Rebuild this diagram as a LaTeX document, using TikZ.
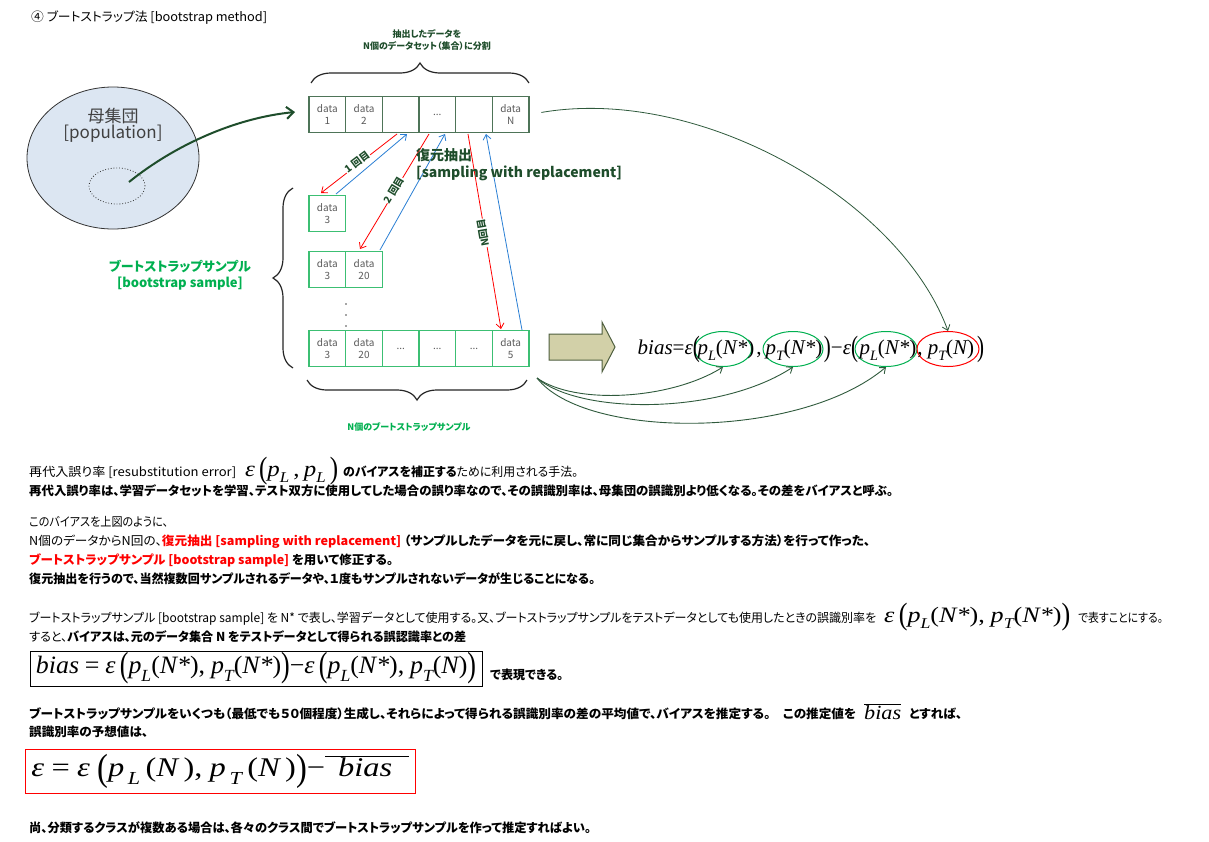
\documentclass[tikz,border=0pt]{standalone}
\usepackage{fontspec}
\setmainfont{Noto Sans CJK JP}[RawFeature=+palt]
\newfontfamily\tms{Liberation Serif}
\usepackage{graphicx}
\usetikzlibrary{shapes.geometric,decorations.pathreplacing,arrows.meta}
\definecolor{dg}{HTML}{1E4D2B}
\definecolor{topb}{HTML}{4E7458}
\definecolor{smpb}{HTML}{3CBF73}
\definecolor{celltext}{HTML}{5A5A5A}
\definecolor{lg}{HTML}{00B050}
\definecolor{blu}{HTML}{2A7FD4}
\definecolor{popfill}{HTML}{DCE6F2}
\definecolor{khaki}{HTML}{D2D0A8}
\definecolor{khakib}{HTML}{4F5F3F}
\definecolor{cg}{HTML}{2F5A3C}
\newcommand\fsz[1]{\fontsize{#1}{#1}\selectfont}
\newcommand\fitw[2]{\resizebox{#1pt}{\height}{#2}}
\newcommand\FmV[1]{{\tms\itshape #1}}
\newcommand\FmR[1]{{\tms #1}}
\newcommand\FmS[1]{\raisebox{-0.3em}{\scalebox{0.68}{\tms\itshape #1}}}
\newcommand\FmL{\raisebox{-0.13em}{\scalebox{1}[1.4]{\tms (}}}
\newcommand\FmRp{\raisebox{-0.13em}{\scalebox{1}[1.4]{\tms )}}}
\newcommand\FmE{\FmV{ε}}
\newcommand\FmMinus{\FmR{−}}
\newcommand\FmPL[1]{\FmV{p}\FmS{L}\FmR{(}\FmV{#1}\FmR{)}}
\newcommand\FmPT[1]{\FmV{p}\FmS{T}\FmR{(}\FmV{#1}\FmR{)}}
\tikzset{
  cell/.style={draw, minimum width=36.67pt, minimum height=36.5pt, inner sep=0pt, align=center,
    font=\fsz{10}\linespread{1.15}\selectfont, text=celltext, line width=1.1pt},
  topcell/.style={cell, draw=topb},
  smpcell/.style={cell, draw=smpb},
  tip/.style={-{Straight Barb[length=5pt,width=8pt]}},
  redarr/.style={draw=red, line width=0.8pt, tip},
  bluearr/.style={draw=blu, line width=0.8pt, tip},
  cnt/.style={font=\bfseries\fsz{10}, text=dg, fill=white, inner sep=0.5pt},
  fm/.style={font=\fsz{21}\tms, inner sep=0pt},
  ell/.style={ellipse, draw=lg, line width=1pt, minimum height=35pt, inner sep=0pt},
  brc/.style={decorate, decoration={brace, amplitude=20pt}, line width=1.2pt, draw=black!85},
  body/.style={anchor=base west, inner sep=0pt, font=\fsz{12.3}},
  curv/.style={draw=cg, line width=0.9pt, tip},
}
\begin{document}
\begin{tikzpicture}[x=1pt,y=-1pt]
\useasboundingbox (0,0) rectangle (1209,841);
\fill[white] (0,0) rectangle (1209,841);

% title
\node[anchor=base west, inner sep=0pt, font=\fsz{12.5}] (title) at (31,21) {\fitw{236}{④ ブートストラップ法 [bootstrap method]}};

% population
\node[ellipse, draw=black!80, fill=popfill, line width=0.8pt, minimum width=172pt, minimum height=142pt] (pop) at (113,158) {};
\node[align=center, font=\fsz{17}\linespread{0.95}\selectfont, text=black!75, inner sep=0pt] (poptxt) at (113,125) {母集団\\{[population]}};
\node[ellipse, draw=black!80, dotted, line width=0.8pt, minimum width=56pt, minimum height=36pt] (sub) at (117,186) {};

% top data row
\node[topcell] (t1) at (327.33,114.5) {data\\1};
\node[topcell] (t2) at (364.00,114.5) {data\\2};
\node[topcell] (t3) at (400.67,114.5) {};
\node[topcell] (t4) at (437.33,114.5) {...};
\node[topcell] (t5) at (474.00,114.5) {};
\node[topcell] (t6) at (510.67,114.5) {data\\N};

\node[align=center, font=\bfseries\fsz{9}\linespread{1.4}\selectfont, text=dg, inner sep=0pt] (toplbl) at (427,40) {抽出したデータを\\N個のデータセット（集合）に分割};
\draw[brc] (311,83) -- (529,83);

% samples
\node[smpcell] (r1c1) at (327.33,213.5) {data\\3};
\node[smpcell] (r2c1) at (327.33,269.5) {data\\3};
\node[smpcell] (r2c2) at (364.00,269.5) {data\\20};
\node[smpcell] (r3c1) at (327.33,348.5) {data\\3};
\node[smpcell] (r3c2) at (364.00,348.5) {data\\20};
\node[smpcell] (r3c3) at (400.67,348.5) {...};
\node[smpcell] (r3c4) at (437.33,348.5) {...};
\node[smpcell] (r3c5) at (474.00,348.5) {...};
\node[smpcell] (r3c6) at (510.67,348.5) {data\\5};
\fill[black!70] (346,304) circle (0.8) (346,315) circle (0.8) (346,326) circle (0.8);

\draw[brc] (293,368) -- (293,188);
\draw[brc] (527,380) -- (307,380);
\node[align=center, font=\bfseries\fsz{13}\linespread{1.25}\selectfont, text=lg, inner sep=0pt] (bslbl) at (180,275) {ブートストラップサンプル\\{[bootstrap sample]}};
\node[font=\bfseries\fsz{9}, text=lg, inner sep=0pt] (nlbl) at (409,427) {N個のブートストラップサンプル};

% population arrow
\coordinate (ps) at (129,182);
\coordinate (pe) at (295,112);
\draw[draw=dg, line width=2pt, -{Straight Barb[length=7pt,width=12pt]}] (ps) .. controls (175,145) and (235,118) .. (pe);

% sampling arrows
\coordinate (a1s) at (397,134); \coordinate (a1e) at (321,193);
\coordinate (b1s) at (336,194); \coordinate (b1e) at (407,134);
\coordinate (a2s) at (429,134); \coordinate (a2e) at (360,249);
\coordinate (b2s) at (380,250); \coordinate (b2e) at (445,134);
\coordinate (a3s) at (468,134); \coordinate (a3e) at (501,329);
\coordinate (b3s) at (522,330); \coordinate (b3e) at (486,134);
\draw[redarr] (a1s) -- (a1e);
\draw[bluearr] (b1s) -- (b1e);
\draw[redarr] (a2s) -- (a2e);
\draw[bluearr] (b2s) -- (b2e);
\draw[redarr] (a3s) -- (a3e);
\draw[bluearr] (b3s) -- (b3e);
\node[cnt, rotate=37] (k1) at (357,162) {1 回目};
\node[cnt, rotate=59] (k2) at (394,190) {2 回目};
\node[cnt, rotate=100] (k3) at (483,233) {N回目};

\node[anchor=north west, align=left, font=\bfseries\fsz{14}\linespread{1.25}\selectfont, text=dg, inner sep=0pt] (fk) at (416,148) {復元抽出\\{[sampling with replacement]}};

% block arrow
\draw[fill=khaki, draw=khakib, line width=1pt] (549,334) -- (602,334) -- (602,322) -- (615,347) -- (602,372) -- (602,360) -- (549,360) -- cycle;

% formula in diagram
\node[ell] (e1) at (723,349) [minimum width=57pt] {};
\node[ell] (e2) at (793,349) [minimum width=60pt] {};
\node[ell] (e3) at (886,349) [minimum width=62pt] {};
\node[ell, draw=red] (e4) at (948,349) [minimum width=62pt] {};
\node[fm, anchor=base east] (fa) at (700,354) {\FmV{bias}\FmR{=}\FmE\FmL};
\node[fm, anchor=base] (fb) at (726,354) {\FmPL{N*}};
\node[fm, anchor=base] (fc) at (759,354) {\FmR{,}};
\node[fm, anchor=base] (fd) at (794,354) {\FmPT{N*}};
\node[fm, anchor=base] (fe) at (841,354) {\FmRp\FmMinus\FmE\FmL};
\node[fm, anchor=base] (ff) at (888,354) {\FmPL{N*}};
\node[fm, anchor=base] (fg) at (920,354) {\FmR{,}};
\node[fm, anchor=base] (fh) at (951,354) {\FmPT{N}};
\node[fm, anchor=base west] (fi) at (977,354) {\FmRp};

% connectors to formula
\draw[draw=cg, line width=0.8pt, tip, shorten <=12pt] (t6.east) .. controls (700,85) and (900,200) .. (e4.north);
\coordinate (cs) at (537,378);
\draw[curv] (cs) .. controls (575,405) and (670,400) .. (e1.south);
\draw[curv] (cs) .. controls (580,415) and (720,415) .. (e2.south);
\draw[curv] (cs) .. controls (585,440) and (800,440) .. (e3.south);

% text
\node[body] (l1a) at (29,476) {\fitw{207}{再代入誤り率 [resubstitution error]}};
\node[anchor=base west, inner sep=0pt, font=\fsz{22}] (l1f) at (245,476) {\fitw{93}{\FmE\,\FmL\FmV{p}\FmS{L}\,\FmR{,}\,\FmV{p}\FmS{L}\,\FmRp}};
\node[body] (l1b) at (343,476) {\fitw{235}{\bfseries のバイアスを補正する\mdseries ために利用される手法。}};
\node[body] (l2) at (29,495) {\fitw{864}{\bfseries 再代入誤り率は、学習データセットを学習、テスト双方に使用してした場合の誤り率なので、その誤識別率は、母集団の誤識別より低くなる。その差をバイアスと呼ぶ。}};
\node[body] (l3) at (29,526) {\fitw{139}{このバイアスを上図のように、}};
\node[body] (l4) at (29,545) {\fitw{841}{N個のデータからN回の、{\color{red}\bfseries 復元抽出 [sampling with replacement]} {\bfseries （サンプルしたデータを元に戻し、常に同じ集合からサンプルする方法）を行って作った、}}};
\node[body] (l5) at (29,564) {\fitw{364}{{\color{red}\bfseries ブートストラップサンプル [bootstrap sample]} {\bfseries を用いて修正する。}}};
\node[body] (l6) at (29,583) {\fitw{566}{\bfseries 復元抽出を行うので、当然複数回サンプルされるデータや、１度もサンプルされないデータが生じることになる。}};
\node[body] (l7a) at (29,622) {\fitw{847}{ブートストラップサンプル [bootstrap sample] を N* で表し、学習データとして使用する。又、ブートストラップサンプルをテストデータとしても使用したときの誤識別率を}};
\node[anchor=base west, inner sep=0pt, font=\fsz{22}] (l7f) at (884,622) {\fitw{186}{\FmE\,\FmL\FmPL{N*}\FmR{,} \FmPT{N*}\FmRp}};
\node[body] (l7b) at (1078,622) {\fitw{85}{で表すことにする。}};
\node[body] (l8) at (29,641) {\fitw{437}{すると、{\bfseries バイアスは、元のデータ集合 N をテストデータとして得られる誤認識率との差}}};
\node[draw=black, line width=1pt, minimum width=452pt, minimum height=35pt, inner sep=0pt, font=\fsz{25}] (bx) at (256,668.5)
  {\fitw{440}{\FmV{bias} \FmR{=} \FmE\,\FmL\FmPL{N*}\FmR{,} \FmPT{N*}\FmRp\FmMinus\FmE\,\FmL\FmPL{N*}\FmR{,} \FmPT{N}\FmRp}};
\node[body] (l9) at (490,679) {\fitw{73}{\bfseries で表現できる。}};
\node[body] (l10) at (29,718) {\fitw{827}{\bfseries ブートストラップサンプルをいくつも（最低でも５０個程度）生成し、それらによって得られる誤識別率の差の平均値で、バイアスを推定する。　この推定値を}};
\node[anchor=base west, inner sep=0pt, font=\fsz{20}] (l10f) at (864,719) {\fitw{37}{$\overline{\hbox{\FmV{bias}}}$}};
\node[body] (l10b) at (909,718) {\fitw{53}{\bfseries とすれば、}};
\node[body] (l11) at (29,736) {\fitw{119}{\bfseries 誤識別率の予想値は、}};
\node[draw=red, line width=1pt, minimum width=390pt, minimum height=44pt, inner sep=0pt, font=\fsz{27}] (rbx) at (220,771)
  {\fitw{377}{\FmE\ \FmR{=}\ \FmE\ \FmL\FmV{p}\FmS{\,L}\,\FmR{(}\FmV{N}\,\FmR{)}\FmR{,}\ \FmV{p}\FmS{\,T}\,\FmR{(}\FmV{N}\,\FmR{)}\FmRp\FmMinus$\overline{\hbox{\hspace{0.4em}\FmV{bias}\hspace{0.5em}}}$}};
\node[body] (l12) at (29,832) {\fitw{562}{\bfseries 尚、分類するクラスが複数ある場合は、各々のクラス間でブートストラップサンプルを作って推定すればよい。}};
\end{tikzpicture}
\end{document}
